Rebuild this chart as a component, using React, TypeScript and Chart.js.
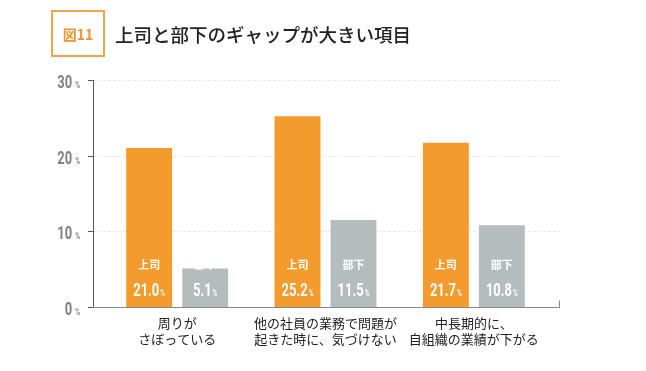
import React, { useEffect, useRef } from "react";
import { Chart, registerables } from "chart.js";

Chart.register(...registerables);

const categories: string[][] = [
  ["周りが", "さぼっている"],
  ["他の社員の業務で問題が", "起きた時に、気づけない"],
  ["中長期的に、", "自組織の業績が下がる"],
];
const seriesNames = ["上司", "部下"];
const bossValues = [21.0, 25.2, 21.7];
const subValues = [5.1, 11.5, 10.8];
const yTicks = [0, 10, 20, 30];

const ORANGE = "#F39B2C";
const GRAY = "#B5BCBE";
const NUM_FONT = "Roboto, 'Liberation Sans', sans-serif";
const JP_FONT = "'Noto Sans CJK JP', 'Noto Sans', sans-serif";
const SQUEEZE = 0.72;

function drawNumPct(ctx: CanvasRenderingContext2D, num: string, x: number, y: number, size: number, pctSize: number, align: "center" | "right", gap: number) {
  ctx.save();
  ctx.font = `bold ${size}px ${NUM_FONT}`;
  const w1 = ctx.measureText(num).width * SQUEEZE;
  ctx.font = `bold ${pctSize}px ${NUM_FONT}`;
  const w2 = ctx.measureText("%").width * SQUEEZE;
  const total = w1 + gap + w2;
  const start = align === "center" ? x - total / 2 : x - total;
  ctx.textAlign = "left";
  ctx.textBaseline = "alphabetic";
  ctx.translate(start, y);
  ctx.scale(SQUEEZE, 1);
  ctx.font = `bold ${size}px ${NUM_FONT}`;
  ctx.fillText(num, 0, 0);
  ctx.font = `bold ${pctSize}px ${NUM_FONT}`;
  ctx.fillText("%", (w1 + gap) / SQUEEZE, 0);
  ctx.restore();
}

const decorPlugin = {
  id: "decor",
  beforeDatasetsDraw(chart: any) {
    const ctx = chart.ctx as CanvasRenderingContext2D;
    const y = chart.scales.y;
    const area = chart.chartArea;
    const axisX = area.left - 10;
    const rightX = area.right + 12;
    ctx.save();
    ctx.strokeStyle = "#E8E8E8";
    ctx.lineWidth = 1;
    ctx.setLineDash([3, 2]);
    yTicks.forEach((t) => {
      if (t === 0) return;
      const py = Math.round(y.getPixelForValue(t)) + 0.5;
      ctx.beginPath();
      ctx.moveTo(axisX, py);
      ctx.lineTo(rightX, py);
      ctx.stroke();
    });
    ctx.setLineDash([]);
    ctx.strokeStyle = "#555";
    ctx.beginPath();
    ctx.moveTo(axisX + 0.5, Math.round(y.getPixelForValue(30)));
    ctx.lineTo(axisX + 0.5, Math.round(y.getPixelForValue(0)) + 1);
    ctx.stroke();
    ctx.fillStyle = "#808080";
    yTicks.forEach((t) => {
      const py = Math.round(y.getPixelForValue(t)) + 0.5;
      ctx.strokeStyle = "#555";
      ctx.beginPath();
      ctx.moveTo(axisX - 5, py);
      ctx.lineTo(axisX, py);
      ctx.stroke();
      drawNumPct(ctx, String(t), axisX - 13, py + 7, 18, 9, "right", 3);
    });
    const by = Math.round(y.getPixelForValue(0)) + 0.5;
    ctx.strokeStyle = "#888";
    ctx.beginPath();
    ctx.moveTo(axisX, by);
    ctx.lineTo(rightX, by);
    ctx.moveTo(rightX - 0.5, by);
    ctx.lineTo(rightX - 0.5, by - 7);
    ctx.stroke();
    ctx.restore();
  },
  afterDatasetsDraw(chart: any) {
    const ctx = chart.ctx as CanvasRenderingContext2D;
    const xs = chart.scales.x;
    const base = chart.scales.y.getPixelForValue(0);
    ctx.save();
    ctx.fillStyle = "#FFFFFF";
    chart.data.datasets.forEach((ds: any, di: number) => {
      const meta = chart.getDatasetMeta(di);
      meta.data.forEach((bar: any, i: number) => {
        ctx.font = `bold 11px ${JP_FONT}`;
        ctx.textAlign = "center";
        ctx.textBaseline = "middle";
        ctx.fillText(ds.label, bar.x, base - 42);
        drawNumPct(ctx, ds.data[i].toFixed(1), bar.x, base - 11, 18, 9, "center", 1);
      });
    });
    ctx.fillStyle = "#222";
    ctx.font = `13px ${JP_FONT}`;
    ctx.textAlign = "center";
    ctx.textBaseline = "middle";
    categories.forEach((lines, i) => {
      const cx = xs.getPixelForValue(i);
      lines.forEach((ln, li) => {
        ctx.fillText(ln, cx, base + 16 + li * 16);
      });
    });
    ctx.restore();
  },
};

export default function App() {
  const ref = useRef<HTMLCanvasElement>(null);
  useEffect(() => {
    if (!ref.current) return;
    const chart = new Chart(ref.current, {
      type: "bar",
      data: {
        labels: categories.map((c) => c.join("")),
        datasets: [
          { label: seriesNames[0], data: bossValues, backgroundColor: ORANGE, categoryPercentage: 0.755, barPercentage: 0.82 },
          { label: seriesNames[1], data: subValues, backgroundColor: GRAY, categoryPercentage: 0.755, barPercentage: 0.82 },
        ],
      },
      options: {
        animation: false,
        responsive: false,
        maintainAspectRatio: false,
        layout: { padding: { left: 103, right: 98, top: 80, bottom: 64 } },
        plugins: { legend: { display: false }, tooltip: { enabled: false }, title: { display: false } },
        scales: {
          x: { display: false },
          y: { display: false, min: 0, max: 30 },
        },
      },
      plugins: [decorPlugin],
    });
    return () => chart.destroy();
  }, []);
  return (
    <div style={{ position: "fixed", left: 0, top: 0, width: 646, height: 371, background: "#fff" }}>
      <canvas ref={ref} width={646} height={371} style={{ position: "absolute", left: 0, top: 0 }} />
      <div
        style={{
          position: "absolute",
          left: 51,
          top: 10,
          width: 50,
          height: 43,
          border: "2px solid #F2A44A",
          display: "flex",
          alignItems: "center",
          justifyContent: "center",
          color: "#EE9430",
          fontFamily: JP_FONT,
          fontWeight: 700,
          fontSize: 14,
        }}
      >
        図11
      </div>
      <div
        style={{
          position: "absolute",
          left: 115,
          top: 20,
          height: 28,
          lineHeight: "28px",
          color: "#222",
          fontFamily: JP_FONT,
          fontWeight: 500,
          fontSize: 18.5,
          whiteSpace: "nowrap",
        }}
      >
        上司と部下のギャップが大きい項目
      </div>
    </div>
  );
}
